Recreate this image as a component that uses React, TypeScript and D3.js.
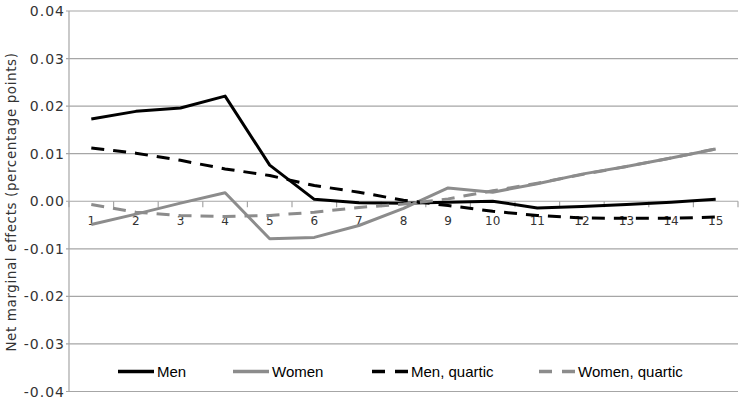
import React from "react";
import * as d3 from "d3";

const categories = ["1","2","3","4","5","6","7","8","9","10","11","12","13","14","15"];
const menValues = [0.0173, 0.0189, 0.0196, 0.0221, 0.0076, 0.0004, -0.0003, -0.0004, -0.0002, 0.0000, -0.0014, -0.0011, -0.0007, -0.0002, 0.0004];
const womenValues = [-0.0049, -0.0027, -0.0004, 0.0018, -0.0079, -0.0076, -0.0051, -0.0015, 0.0028, 0.0019, 0.0037, 0.0057, 0.0073, 0.0091, 0.0110];
const menQuartic = [0.0112, 0.0101, 0.0086, 0.0068, 0.0054, 0.0033, 0.0019, 0.0002, -0.0009, -0.0021, -0.0030, -0.0035, -0.0036, -0.0036, -0.0033];
const womenQuartic = [-0.0007, -0.0023, -0.0030, -0.0032, -0.0030, -0.0023, -0.0013, -0.0006, 0.0005, 0.0022, 0.0038, 0.0056, 0.0073, 0.0091, 0.0110];
const yTicks = [0.04, 0.03, 0.02, 0.01, 0, -0.01, -0.02, -0.03, -0.04];
const seriesNames = ["Men", "Women", "Men, quartic", "Women, quartic"];

const W = 750, H = 401;
const left = 69, right = 738, top = 11, bottom = 391.5;

export default function App() {
  const x = d3.scaleBand<string>().domain(categories).range([left, right]).padding(0);
  const y = d3.scaleLinear().domain([-0.04, 0.04]).range([bottom, top]);
  const cx = (c: string) => (x(c) as number) + x.bandwidth() / 2;
  const line = d3.line<number>().x((_, i) => cx(categories[i])).y(d => y(d));

  const series = [
    { name: seriesNames[0], values: menValues, color: "#000000", dash: undefined },
    { name: seriesNames[1], values: womenValues, color: "#8c8c8c", dash: undefined },
    { name: seriesNames[2], values: menQuartic, color: "#000000", dash: "13,9" },
    { name: seriesNames[3], values: womenQuartic, color: "#8c8c8c", dash: "13,9" },
  ];
  const legendX = [118, 233, 372, 539];
  const legendY = 371.5;
  const grid = "#a6a6a6";
  const boundaries = categories.map(c => x(c) as number).concat([right]);

  return (
    <svg width={W} height={H} style={{ position: "absolute", left: 0, top: 0, background: "#fff" }}>
      <rect x={0} y={0} width={W} height={H} fill="#fff" />
      {yTicks.map(t => (
        <g key={t}>
          <line x1={left - 3} x2={right} y1={y(t)} y2={y(t)} stroke={grid} strokeWidth={1.2} />
          <text x={65} y={y(t) + 5} textAnchor="end" fontFamily="DejaVu Sans" fontSize={14} letterSpacing={1} fill="#333">
            {t.toFixed(2)}
          </text>
        </g>
      ))}
      <line x1={left} x2={left} y1={top} y2={bottom} stroke={grid} strokeWidth={1.2} />
      {boundaries.map((b, i) => (
        <line key={i} x1={b} x2={b} y1={y(0)} y2={y(0) + 6} stroke={grid} strokeWidth={1.2} />
      ))}
      {categories.map(c => (
        <text key={c} x={cx(c)} y={225} textAnchor="middle" fontFamily="DejaVu Sans" fontSize={12} fill="#333">
          {c}
        </text>
      ))}
      <text
        transform={`translate(16,202) rotate(-90)`}
        textAnchor="middle"
        fontFamily="DejaVu Sans"
        fontSize={13.5}
        letterSpacing={0.6}
        fill="#333"
      >
        Net marginal effects (percentage points)
      </text>
      {series.map(s => (
        <path key={s.name} d={line(s.values) as string} fill="none" stroke={s.color} strokeWidth={3}
          strokeDasharray={s.dash} strokeLinejoin="round" />
      ))}
      {series.map((s, i) => (
        <g key={s.name}>
          <line x1={legendX[i]} x2={legendX[i] + 36} y1={legendY} y2={legendY} stroke={s.color} strokeWidth={3.5}
            strokeDasharray={s.dash ? "13,10" : undefined} />
          <text x={legendX[i] + 39} y={legendY + 5.5} fontFamily="Liberation Sans" fontSize={15} fill="#000">
            {s.name}
          </text>
        </g>
      ))}
    </svg>
  );
}
